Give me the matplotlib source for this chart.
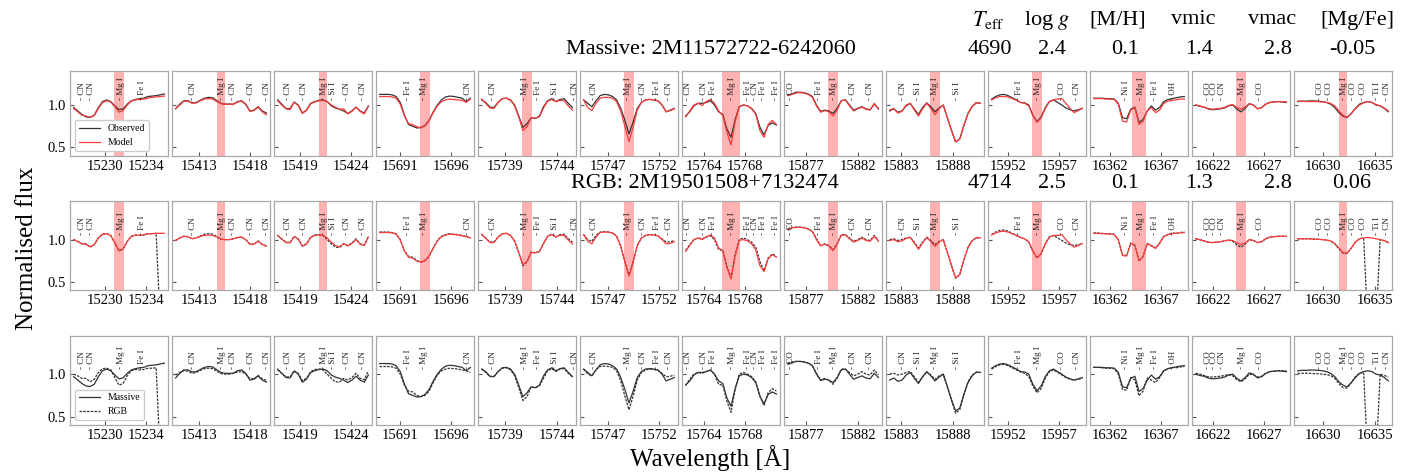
import matplotlib
matplotlib.use("Agg")
import matplotlib.pyplot as plt

plt.rcParams['font.family'] = 'serif'
plt.rcParams['font.serif'] = ['Liberation Serif', 'DejaVu Serif']
plt.rcParams['mathtext.fontset'] = 'stix'

# window centres (Mg I line) in Angstrom, half width of the shaded line mask
centres = [15231.375, 15415.15, 15421.25, 15693.45, 15741.1, 15749.05, 15766.65,
           15879.6, 15886.25, 15954.85, 16364.85, 16624.75, 16631.9]
band_half = [0.52, 0.37, 0.37, 0.53, 0.5, 0.52, 0.87, 0.5, 0.52, 0.53, 0.65, 0.53, 0.4]
xtick_pairs = [(15230, 15234), (15413, 15418), (15419, 15424), (15691, 15696),
               (15739, 15744), (15747, 15752), (15764, 15768), (15877, 15882),
               (15883, 15888), (15952, 15957), (16362, 16367), (16622, 16627),
               (16630, 16635)]

# sampling offsets from the window centre (Angstrom)
offsets = [-4.4, -4.0, -3.6, -3.2, -2.8, -2.4, -2.0, -1.6, -1.2, -0.8, -0.4, 0.0,
           0.4, 0.8, 1.2, 1.6, 2.0, 2.4, 2.8, 3.2, 3.6, 4.0, 4.4]

nan = float('nan')

massive_obs = [
    [0.97, 0.93, 0.89, 0.86, 0.855, 0.88, 0.97, 1.04, 1.06, 1.04, 0.99, 0.945, 0.955, 1.01, 1.05, 1.065, 1.075, 1.08, 1.10, 1.105, 1.11, 1.12, 1.13],
    [0.955, 1.01, 1.05, 1.05, 1.025, 1.03, 1.055, 1.08, 1.09, 1.085, 1.05, 1.02, 1.01, 1.01, 1.01, 1.04, 1.05, 1.01, 0.93, 0.94, 0.98, 0.93, 0.905],
    [1.06, 1.01, 0.96, 0.955, 1.035, 1.0, 0.905, 0.94, 1.02, 1.04, 1.055, 1.06, 1.04, 0.99, 0.965, 0.95, 0.93, 0.9, 0.93, 0.975, 0.93, 0.905, 0.99],
    [1.125, 1.125, 1.125, 1.12, 1.1, 1.03, 0.885, 0.77, 0.75, 0.73, 0.735, 0.76, 0.82, 0.92, 1.0, 1.06, 1.095, 1.105, 1.1, 1.09, 1.08, 1.04, 1.08],
    [1.06, 1.03, 0.975, 0.97, 1.03, 1.075, 1.08, 1.06, 1.0, 0.87, 0.735, 0.78, 0.85, 0.84, 0.87, 0.98, 1.05, 1.075, 1.04, 1.065, 1.075, 1.02, 0.97],
    [1.06, 1.02, 0.98, 1.05, 1.11, 1.125, 1.12, 1.1, 1.06, 0.96, 0.82, 0.66, 0.8, 0.96, 1.03, 1.06, 1.066, 1.06, 1.05, 1.0, 0.92, 0.94, 0.96],
    [0.87, 0.92, 0.99, 1.02, 1.02, 1.03, 1.05, 1.0, 0.92, 0.89, 0.72, 0.62, 0.83, 0.98, 1.0, 0.99, 0.96, 0.9, 0.74, 0.65, 0.76, 0.79, 0.765],
    [1.12, 1.13, 1.15, 1.15, 1.145, 1.13, 1.1, 1.0, 0.925, 0.94, 0.93, 0.9, 0.96, 1.05, 1.06, 1.0, 0.94, 0.96, 0.98, 0.955, 0.945, 1.01, 0.96],
    [0.93, 0.955, 0.915, 0.93, 0.99, 1.02, 0.95, 0.89, 0.97, 1.025, 0.98, 0.92, 0.965, 1.0, 0.85, 0.7, 0.565, 0.6, 0.76, 0.9, 0.98, 1.025, 1.02],
    [1.07, 1.1, 1.12, 1.125, 1.11, 1.085, 1.06, 1.03, 1.025, 1.0, 0.88, 0.805, 0.86, 0.97, 1.04, 1.06, 1.03, 1.0, 0.965, 0.945, 0.93, 0.945, 0.96],
    [1.08, 1.08, 1.08, 1.075, 1.075, 1.07, 1.02, 0.85, 0.84, 0.95, 0.975, 0.795, 0.83, 0.93, 0.99, 0.94, 0.97, 1.04, 1.065, 1.075, 1.085, 1.095, 1.1],
    [1.0, 0.985, 0.975, 0.955, 0.945, 0.948, 0.955, 0.965, 0.99, 1.0, 0.95, 0.92, 0.96, 1.015, 1.0, 0.955, 0.97, 1.01, 1.03, 1.035, 1.04, 1.035, 1.03],
    [1.04, 1.045, 1.045, 1.048, 1.048, 1.045, 1.04, 1.03, 1.01, 0.97, 0.91, 0.87, 0.85, 0.9, 0.96, 1.01, 1.03, 1.04, 1.03, 1.0, 0.99, 0.96, 0.92],
]

massive_model = [
    [0.96, 0.92, 0.88, 0.87, 0.855, 0.875, 0.96, 1.03, 1.05, 1.035, 0.98, 0.915, 0.935, 1.0, 1.045, 1.06, 1.065, 1.07, 1.08, 1.09, 1.095, 1.10, 1.105],
    [0.955, 1.0, 1.045, 1.045, 1.02, 1.025, 1.05, 1.07, 1.075, 1.07, 1.04, 1.015, 1.01, 1.01, 1.01, 1.035, 1.045, 1.005, 0.925, 0.935, 0.975, 0.92, 0.885],
    [1.05, 1.0, 0.955, 0.945, 1.03, 0.995, 0.9, 0.935, 1.015, 1.035, 1.05, 1.055, 1.04, 1.0, 0.975, 0.95, 0.955, 0.895, 0.925, 0.975, 0.925, 0.895, 0.985],
    [1.1, 1.1, 1.1, 1.095, 1.08, 1.01, 0.875, 0.78, 0.77, 0.745, 0.73, 0.755, 0.815, 0.91, 0.99, 1.04, 1.06, 1.07, 1.065, 1.06, 1.055, 1.03, 1.07],
    [1.07, 1.02, 0.965, 0.96, 1.03, 1.075, 1.08, 1.055, 0.99, 0.86, 0.7, 0.745, 0.85, 0.845, 0.86, 0.965, 1.045, 1.065, 1.04, 1.055, 1.05, 0.99, 0.94],
    [1.06, 0.97, 0.935, 1.02, 1.08, 1.09, 1.09, 1.08, 1.04, 0.93, 0.75, 0.57, 0.74, 0.94, 1.03, 1.06, 1.066, 1.06, 1.05, 1.0, 0.92, 0.935, 0.955],
    [0.86, 0.93, 1.0, 1.02, 0.995, 1.04, 1.065, 1.02, 0.93, 0.875, 0.68, 0.53, 0.8, 0.98, 1.0, 0.99, 0.955, 0.89, 0.7, 0.62, 0.77, 0.82, 0.77],
    [1.11, 1.125, 1.14, 1.145, 1.14, 1.125, 1.09, 0.99, 0.915, 0.935, 0.92, 0.87, 0.94, 1.05, 1.06, 0.99, 0.93, 0.955, 0.975, 0.95, 0.94, 1.02, 0.95],
    [0.94, 0.96, 0.905, 0.925, 1.0, 1.02, 0.94, 0.87, 0.955, 1.02, 0.96, 0.885, 0.955, 1.0, 0.85, 0.7, 0.565, 0.6, 0.76, 0.9, 0.985, 1.03, 1.02],
    [1.06, 1.085, 1.1, 1.1, 1.095, 1.075, 1.055, 1.03, 1.02, 0.99, 0.875, 0.795, 0.85, 0.96, 1.04, 1.06, 1.07, 1.075, 1.02, 0.96, 0.91, 0.935, 0.96],
    [1.075, 1.075, 1.075, 1.07, 1.07, 1.065, 1.01, 0.81, 0.8, 0.94, 0.97, 0.77, 0.81, 0.93, 0.97, 0.91, 0.94, 1.02, 1.045, 1.055, 1.06, 1.07, 1.07],
    [1.0, 0.99, 0.975, 0.96, 0.95, 0.955, 0.96, 0.97, 0.995, 1.005, 0.97, 0.95, 0.975, 1.015, 1.0, 0.955, 0.97, 1.01, 1.03, 1.035, 1.04, 1.04, 1.035],
    [1.045, 1.045, 1.04, 1.04, 1.04, 1.04, 1.035, 1.03, 1.02, 0.99, 0.93, 0.88, 0.855, 0.9, 0.955, 1.0, 1.025, 1.04, 1.03, 1.005, 0.99, 0.965, 0.93],
]

rgb_obs = [
    [1.0, 0.98, 0.95, 0.95, 0.91, 0.94, 1.02, 1.065, 1.07, 1.05, 0.96, 0.87, 0.89, 0.98, 1.04, 1.055, 1.05, 1.055, 1.07, 1.07, 1.075, 0.0, nan],
    [0.99, 1.02, 1.04, 1.035, 1.01, 1.02, 1.045, 1.065, 1.07, 1.065, 1.035, 1.005, 1.0, 1.0, 1.01, 1.025, 1.03, 1.0, 0.95, 0.945, 0.985, 0.945, 0.925],
    [1.05, 1.01, 0.97, 0.965, 1.04, 1.01, 0.925, 0.95, 1.03, 1.055, 1.06, 1.05, 1.0, 0.95, 0.91, 0.905, 0.95, 0.93, 0.96, 1.01, 0.95, 0.935, 1.04],
    [1.09, 1.09, 1.09, 1.085, 1.07, 1.0, 0.87, 0.8, 0.79, 0.75, 0.735, 0.75, 0.8, 0.9, 0.99, 1.04, 1.06, 1.07, 1.065, 1.06, 1.05, 1.04, 1.02],
    [1.06, 1.02, 0.97, 0.975, 1.03, 1.07, 1.075, 1.05, 0.98, 0.84, 0.69, 0.735, 0.85, 0.84, 0.86, 0.95, 1.04, 1.065, 1.03, 1.06, 1.065, 1.01, 0.97],
    [1.06, 1.0, 0.98, 1.05, 1.09, 1.095, 1.09, 1.08, 1.04, 0.92, 0.74, 0.58, 0.74, 0.93, 1.02, 1.05, 1.06, 1.055, 1.045, 1.01, 0.97, 0.975, 0.99],
    [0.87, 0.94, 1.0, 1.02, 1.01, 1.03, 1.045, 1.0, 0.88, 0.87, 0.68, 0.55, 0.82, 1.0, 1.02, 1.0, 0.97, 0.91, 0.74, 0.63, 0.78, 0.83, 0.8],
    [1.13, 1.145, 1.15, 1.15, 1.145, 1.13, 1.1, 1.01, 0.93, 0.95, 0.93, 0.88, 0.95, 1.06, 1.06, 1.02, 0.98, 1.0, 1.03, 1.0, 0.99, 1.05, 0.99],
    [1.0, 1.01, 0.99, 1.0, 1.02, 1.03, 0.97, 0.9, 0.97, 1.03, 0.99, 0.94, 0.98, 1.0, 0.85, 0.69, 0.54, 0.58, 0.76, 0.91, 0.99, 1.02, 1.02],
    [1.06, 1.09, 1.11, 1.115, 1.1, 1.075, 1.05, 1.025, 1.01, 0.97, 0.86, 0.78, 0.83, 0.95, 1.03, 1.05, 1.02, 0.99, 0.96, 0.94, 0.93, 0.94, 0.95],
    [1.08, 1.08, 1.075, 1.07, 1.07, 1.065, 1.0, 0.82, 0.81, 0.96, 0.93, 0.745, 0.8, 0.955, 0.93, 0.9, 0.96, 1.04, 1.06, 1.08, 1.075, 1.085, 1.09],
    [1.01, 1.0, 0.985, 0.97, 0.965, 0.97, 0.975, 0.985, 0.995, 0.98, 0.935, 0.91, 0.945, 1.0, 0.99, 0.965, 0.975, 1.01, 1.03, 1.035, 1.04, 1.04, 1.04],
    [1.01, 1.01, 1.01, 1.01, 1.005, 1.005, 1.0, 0.995, 0.985, 0.95, 0.89, 0.84, 0.835, 0.9, 0.97, 1.01, 1.02, 0.0, 0.0, 0.0, 1.0, 0.985, 0.965],
]

rgb_model = [
    [1.0, 0.975, 0.95, 0.945, 0.915, 0.94, 1.02, 1.065, 1.07, 1.05, 0.96, 0.865, 0.885, 0.98, 1.04, 1.055, 1.05, 1.06, 1.07, 1.07, 1.075, 1.075, 1.075],
    [0.99, 1.02, 1.04, 1.035, 1.01, 1.02, 1.04, 1.05, 1.055, 1.05, 1.03, 1.005, 1.0, 1.0, 1.01, 1.025, 1.03, 1.0, 0.945, 0.945, 0.98, 0.94, 0.92],
    [1.05, 1.005, 0.965, 0.96, 1.035, 1.005, 0.92, 0.945, 1.025, 1.05, 1.055, 1.05, 1.02, 0.97, 0.93, 0.915, 0.95, 0.925, 0.955, 1.0, 0.945, 0.93, 1.03],
    [1.085, 1.085, 1.085, 1.08, 1.065, 0.995, 0.865, 0.79, 0.78, 0.745, 0.73, 0.75, 0.805, 0.9, 0.985, 1.035, 1.055, 1.065, 1.06, 1.055, 1.045, 1.035, 1.02],
    [1.065, 1.015, 0.965, 0.965, 1.03, 1.07, 1.075, 1.05, 0.985, 0.85, 0.7, 0.74, 0.85, 0.845, 0.855, 0.955, 1.04, 1.06, 1.035, 1.05, 1.05, 0.995, 0.95],
    [1.06, 0.98, 0.95, 1.03, 1.085, 1.09, 1.09, 1.08, 1.04, 0.92, 0.74, 0.565, 0.735, 0.93, 1.02, 1.05, 1.06, 1.055, 1.045, 1.0, 0.95, 0.955, 0.975],
    [0.86, 0.93, 1.0, 1.02, 1.0, 1.035, 1.055, 1.02, 0.9, 0.87, 0.67, 0.53, 0.8, 0.99, 1.0, 0.985, 0.95, 0.88, 0.69, 0.62, 0.77, 0.82, 0.79],
    [1.12, 1.14, 1.145, 1.145, 1.14, 1.125, 1.095, 1.0, 0.925, 0.945, 0.925, 0.87, 0.945, 1.055, 1.055, 1.01, 0.97, 0.99, 1.02, 0.99, 0.98, 1.04, 0.98],
    [0.99, 1.0, 0.975, 0.985, 1.015, 1.025, 0.96, 0.885, 0.96, 1.025, 0.975, 0.92, 0.97, 1.0, 0.845, 0.69, 0.545, 0.585, 0.76, 0.905, 0.985, 1.025, 1.02],
    [1.055, 1.08, 1.095, 1.1, 1.09, 1.07, 1.05, 1.025, 1.01, 0.975, 0.865, 0.785, 0.835, 0.95, 1.03, 1.05, 1.05, 1.06, 1.0, 0.95, 0.91, 0.93, 0.955],
    [1.075, 1.075, 1.07, 1.07, 1.065, 1.06, 0.995, 0.81, 0.805, 0.955, 0.935, 0.75, 0.8, 0.95, 0.925, 0.895, 0.955, 1.035, 1.06, 1.07, 1.075, 1.08, 1.085],
    [1.01, 1.0, 0.985, 0.97, 0.965, 0.97, 0.975, 0.985, 0.995, 0.99, 0.96, 0.94, 0.96, 1.0, 0.99, 0.965, 0.975, 1.01, 1.03, 1.035, 1.04, 1.04, 1.04],
    [1.01, 1.01, 1.01, 1.01, 1.005, 1.005, 1.0, 0.995, 0.985, 0.955, 0.9, 0.845, 0.84, 0.9, 0.97, 1.01, 1.02, 1.025, 1.02, 1.01, 1.0, 0.99, 0.965],
]

# identified lines in each window: (offset from centre, species)
line_ids = [
    [(-3.56, 'CN'), (-2.72, 'CN'), (0.2, 'Mg I'), (2.2, 'Fe I')],
    [(-2.69, 'CN'), (0.06, 'Mg I'), (1.2, 'CN'), (2.9, 'CN'), (4.43, 'CN')],
    [(-3.43, 'CN'), (-1.81, 'CN'), (0.13, 'Mg I'), (1.0, 'Si I'), (2.3, 'CN'), (3.92, 'CN')],
    [(-1.62, 'Fe I'), (-0.06, 'Mg I'), (4.14, 'CN')],
    [(-3.33, 'CN'), (-0.19, 'Mg I'), (1.1, 'Fe I'), (2.72, 'Si I'), (4.66, 'CN')],
    [(-3.37, 'CN'), (-0.06, 'Mg I'), (1.39, 'CN'), (2.69, 'Fe I'), (3.92, 'CN')],
    [(-4.14, 'CN'), (-2.62, 'CN'), (-1.78, 'Fe I'), (0.06, 'Mg I'), (1.62, 'Fe I'),
     (2.36, 'CN'), (3.14, 'Fe I'), (4.34, 'Fe I')],
    [(-4.08, 'CO'), (-1.33, 'Fe I'), (0.1, 'Mg I'), (1.97, 'CN'), (3.59, 'CN')],
    [(-3.14, 'CN'), (-1.62, 'Si I'), (0.0, 'Mg I'), (2.17, 'Si I')],
    [(-1.72, 'Fe I'), (0.06, 'Mg I'), (2.39, 'CO'), (3.85, 'CN')],
    [(-1.29, 'Ni I'), (0.16, 'Mg I'), (1.55, 'Fe I'), (3.33, 'OH')],
    [(-3.22, 'CO'), (-2.57, 'CO'), (-1.86, 'CN'), (0.11, 'Mg I'), (1.8, 'CO')],
    [(-2.23, 'CO'), (-1.36, 'CO'), (0.1, 'Mg I'), (1.0, 'CO'), (1.94, 'CO'),
     (3.27, 'Ti I'), (4.3, 'CN')],
]

param_names = [r'$T_{\rm eff}$', r'log $g$', '[M/H]', 'vmic', 'vmac', '[Mg/Fe]']
massive_params = ['4690', '2.4', '0.1', '1.4', '2.8', '-0.05']
rgb_params = ['4714', '2.5', '0.1', '1.3', '2.8', '0.06']

W, H = 1413, 473
fig = plt.figure(figsize=(W / 100, H / 100), dpi=100)

row_top = [71, 201, 336]
row_bot = [156, 290, 425]
row_ylim = [(0.4, 1.4), (0.4, 1.46), (0.4, 1.45)]
left0, step, width = 70, 102, 98

RED = '#ff3a3a'
DARK = '#333333'
LW = 0.9

for r in range(3):
    for i, c in enumerate(centres):
        ax = fig.add_axes([(left0 + i * step) / W, 1 - row_bot[r] / H,
                           width / W, (row_bot[r] - row_top[r]) / H])
        wl = [c + o for o in offsets]
        if r == 0:
            ax.axvspan(c - band_half[i], c + band_half[i], color='red', alpha=0.3, lw=0, zorder=0)
            ax.plot(wl, massive_obs[i], color=DARK, lw=LW, label='Observed')
            ax.plot(wl, massive_model[i], color=RED, lw=LW, label='Model')
        elif r == 1:
            ax.axvspan(c - band_half[i], c + band_half[i], color='red', alpha=0.3, lw=0, zorder=0)
            ax.plot(wl, rgb_obs[i], color=DARK, lw=LW, ls=(0, (2, 1)))
            ax.plot(wl, rgb_model[i], color=RED, lw=LW)
        else:
            ax.plot(wl, massive_obs[i], color=DARK, lw=LW, label='Massive')
            ax.plot(wl, rgb_obs[i], color=DARK, lw=LW, ls=(0, (2, 1)), label='RGB')

        for off, name in line_ids[i]:
            ax.text(c + off, 1.055, '- ' + name, rotation=90, ha='center', va='bottom',
                    fontsize=6.5, color='#222222', clip_on=True)

        ax.set_xlim(c - 4.75, c + 4.75)
        ax.set_ylim(*row_ylim[r])
        ax.set_xticks(list(xtick_pairs[i]))
        ax.set_xticklabels([str(t) for t in xtick_pairs[i]], fontsize=10.5)
        ax.set_yticks([0.5, 1.0])
        if i == 0:
            ax.set_yticklabels(['0.5', '1.0'], fontsize=10.5)
        else:
            ax.set_yticklabels([])
        ax.tick_params(direction='in', length=3, color='#555555', pad=3)
        for s in ax.spines.values():
            s.set_color('#a8a8a8')
            s.set_linewidth(0.9)

        if i == 0 and r != 1:
            leg = ax.legend(loc='lower left', fontsize=7, handlelength=2.2,
                            borderpad=0.4, labelspacing=0.5, framealpha=1)
            leg.get_frame().set_edgecolor('#cccccc')

# star names and stellar parameters
fig.text(711 / W, 1 - 50 / H, 'Massive: 2M11572722-6242060', fontsize=16, ha='center', va='center')
fig.text(705 / W, 1 - 183 / H, 'RGB: 2M19501508+7132474', fontsize=16, ha='center', va='center')

head_x = [988, 1047, 1118, 1193, 1272, 1357]
val_x = [990, 1052, 1125, 1199, 1278, 1352]
for hx, name in zip(head_x, param_names):
    fig.text(hx / W, 1 - 20 / H, name, fontsize=16, ha='center', va='center')
for vx, m, g in zip(val_x, massive_params, rgb_params):
    fig.text(vx / W, 1 - 50 / H, m, fontsize=16, ha='center', va='center')
    fig.text(vx / W, 1 - 183 / H, g, fontsize=16, ha='center', va='center')

fig.text(27 / W, 1 - 248 / H, 'Normalised flux', fontsize=18, rotation=90, ha='center', va='center')
fig.text(710 / W, 1 - 458 / H, 'Wavelength [Å]', fontsize=18, ha='center', va='center')

fig.savefig('out.png', dpi=100)
